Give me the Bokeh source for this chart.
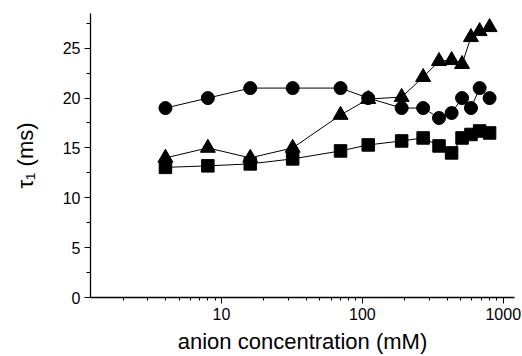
from bokeh.plotting import figure
from bokeh.models import FixedTicker, SingleIntervalTicker, Range1d
from bokeh.embed import file_html
from bokeh.resources import INLINE

# Data
conc = [4, 8, 16, 32, 70, 110, 190, 270, 350, 430, 510, 590, 680, 800]
tau_circle = [19.0, 20.0, 21.0, 21.0, 21.0, 20.0, 19.0, 19.0, 18.0, 18.5, 20.0, 19.0, 21.0, 20.0]
tau_triangle = [14.0, 15.0, 14.0, 15.0, 18.3, 19.9, 20.1, 22.1, 23.7, 23.8, 23.4, 26.1, 26.7, 27.1]
tau_square = [13.05, 13.2, 13.4, 13.9, 14.7, 15.3, 15.7, 16.0, 15.2, 14.5, 16.0, 16.35, 16.7, 16.5]

x_major = [10, 100, 1000]
x_minor = [2, 3, 4, 5, 6, 7, 8, 9, 20, 30, 40, 50, 60, 70, 80, 90,
           200, 300, 400, 500, 600, 700, 800, 900]
x_labels = {10: "10", 100: "100", 1000: "1000"}

p = figure(width=522, height=356, x_axis_type="log",
           x_range=Range1d(1.175, 1202), y_range=Range1d(0, 28.48),
           output_backend="svg", toolbar_location=None,
           min_border_left=90, min_border_right=8,
           min_border_top=13, min_border_bottom=59)
p.outline_line_color = None
p.grid.visible = False
p.background_fill_color = "white"
p.border_fill_color = "white"

for ys, marker, size in [(tau_square, "square", 12.5),
                         (tau_triangle, "triangle", 15),
                         (tau_circle, "circle", 13)]:
    p.line(conc, ys, line_color="black", line_width=1)
    p.scatter(conc, ys, marker=marker, size=size,
              fill_color="black", line_color="black")

font = "Liberation Sans"

xa = p.xaxis[0]
xa.ticker = FixedTicker(ticks=x_major, minor_ticks=x_minor)
xa.major_label_overrides = x_labels
xa.axis_label = "anion concentration (mM)"
xa.axis_label_text_font = font
xa.axis_label_text_font_size = "22px"
xa.axis_label_text_font_style = "normal"
xa.axis_label_text_color = "#000000"
xa.axis_label_standoff = 6
xa.major_label_text_font = font
xa.major_label_text_font_size = "16px"
xa.major_label_text_color = "#000000"
xa.major_label_standoff = 4
xa.major_tick_in = 0
xa.major_tick_out = 6
xa.minor_tick_in = 0
xa.minor_tick_out = 3
xa.axis_line_color = "black"
xa.major_tick_line_color = "black"
xa.minor_tick_line_color = "black"
xa.axis_line_width = 1.3

ya = p.yaxis[0]
ya.ticker = SingleIntervalTicker(interval=5, num_minor_ticks=2)
ya.axis_label = "τ₁ (ms)"
ya.axis_label_text_font = font
ya.axis_label_text_font_size = "22px"
ya.axis_label_text_font_style = "normal"
ya.axis_label_text_color = "#000000"
ya.axis_label_standoff = 22
ya.major_label_text_font = font
ya.major_label_text_font_size = "16px"
ya.major_label_text_color = "#000000"
ya.major_label_standoff = 4
ya.major_tick_in = 0
ya.major_tick_out = 6
ya.minor_tick_in = 0
ya.minor_tick_out = 4
ya.axis_line_color = "black"
ya.major_tick_line_color = "black"
ya.minor_tick_line_color = "black"
ya.axis_line_width = 1.3

open("out.html", "w").write(file_html(p, INLINE))
